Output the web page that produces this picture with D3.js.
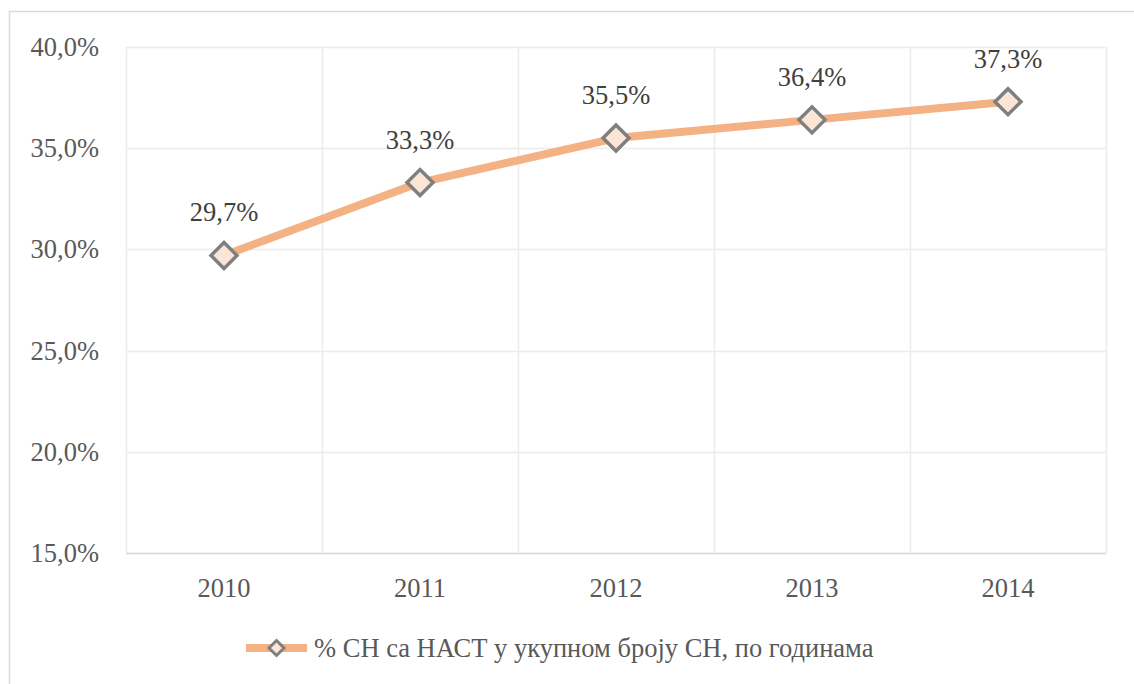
<!doctype html>
<html>
<head>
<meta charset="UTF-8">
<style>
  body { margin: 0; background: #fff; }
</style>
</head>
<body>
<svg id="chart" width="1134" height="684"></svg>
<script src="https://d3js.org/d3.v7.min.js"></script>
<script>
// data
var years = ["2010", "2011", "2012", "2013", "2014"];
var shares = [29.7, 33.3, 35.5, 36.4, 37.3];
var yTicks = [15, 20, 25, 30, 35, 40];
var seriesName = "% СН са НАСТ у укупном броју СН, по годинама";

var FONT = "'Times New Roman', 'Liberation Serif', serif";
var svg = d3.select("#chart");
var margin = { left: 126, top: 47, right: 1106, bottom: 553 };

// outer frame
svg.append("rect")
    .attr("x", 9.5).attr("y", 11.5)
    .attr("width", 1140).attr("height", 700)
    .attr("fill", "none").attr("stroke", "#d9d9d9").attr("stroke-width", 1.5);

var x = d3.scaleBand().domain(years).range([margin.left, margin.right]);
var y = d3.scaleLinear().domain([15, 40]).range([margin.bottom, margin.top]);

var fmt = function (v) { return d3.format(".1f")(v).replace(".", ",") + "%"; };

// horizontal grid
svg.append("g").selectAll("line").data(yTicks).enter().append("line")
    .attr("x1", margin.left).attr("x2", margin.right)
    .attr("y1", d => Math.round(y(d)) + 0.5).attr("y2", d => Math.round(y(d)) + 0.5)
    .attr("stroke", "#ececec").attr("stroke-width", 1.5);

// vertical grid at category borders
var borders = years.map(d => x(d)).concat([margin.right]);
svg.append("g").selectAll("line").data(borders).enter().append("line")
    .attr("x1", d => Math.round(d) + 0.5).attr("x2", d => Math.round(d) + 0.5)
    .attr("y1", margin.top).attr("y2", margin.bottom)
    .attr("stroke", "#ececec").attr("stroke-width", 1.5);

// bottom axis line
svg.append("line")
    .attr("x1", margin.left).attr("x2", margin.right)
    .attr("y1", margin.bottom + 0.5).attr("y2", margin.bottom + 0.5)
    .attr("stroke", "#d9d9d9").attr("stroke-width", 1.5);

// y axis labels
svg.append("g").selectAll("text").data(yTicks).enter().append("text")
    .attr("x", 99).attr("y", d => y(d) + 9)
    .attr("text-anchor", "end")
    .style("font-family", FONT).attr("font-size", 26.5).attr("fill", "#595959")
    .text(fmt);

// x axis labels
svg.append("g").selectAll("text").data(years).enter().append("text")
    .attr("x", d => x(d) + x.bandwidth() / 2).attr("y", 597)
    .attr("text-anchor", "middle")
    .style("font-family", FONT).attr("font-size", 26.5).attr("fill", "#595959")
    .text(d => d);

var pts = years.map((d, i) => [x(d) + x.bandwidth() / 2, y(shares[i])]);

// line
svg.append("path")
    .attr("d", d3.line()(pts))
    .attr("fill", "none").attr("stroke", "#f4b183").attr("stroke-width", 8)
    .attr("stroke-linejoin", "round");

// markers
var diamond = function (cx, cy, r) {
    return "M" + cx + "," + (cy - r) + "L" + (cx + r) + "," + cy + "L" + cx + "," + (cy + r) + "L" + (cx - r) + "," + cy + "Z";
};
svg.append("g").selectAll("path").data(pts).enter().append("path")
    .attr("d", d => diamond(d[0], d[1], 13))
    .attr("fill", "#fbe5d6").attr("stroke", "#7f7f7f").attr("stroke-width", 3.5);

// data labels
svg.append("g").selectAll("text").data(pts).enter().append("text")
    .attr("x", d => d[0]).attr("y", d => d[1] - 34)
    .attr("text-anchor", "middle")
    .style("font-family", FONT).attr("font-size", 26.5).attr("fill", "#404040")
    .text((d, i) => fmt(shares[i]));

// legend
svg.append("line")
    .attr("x1", 246).attr("x2", 307).attr("y1", 648).attr("y2", 648)
    .attr("stroke", "#f4b183").attr("stroke-width", 8);
svg.append("path")
    .attr("d", diamond(276.5, 648, 7.5))
    .attr("fill", "#fbe5d6").attr("stroke", "#7f7f7f").attr("stroke-width", 3);
svg.append("text")
    .attr("x", 314).attr("y", 657)
    .style("font-family", FONT).attr("font-size", 26.5).attr("fill", "#595959")
    .text(seriesName);
</script>
</body>
</html>
